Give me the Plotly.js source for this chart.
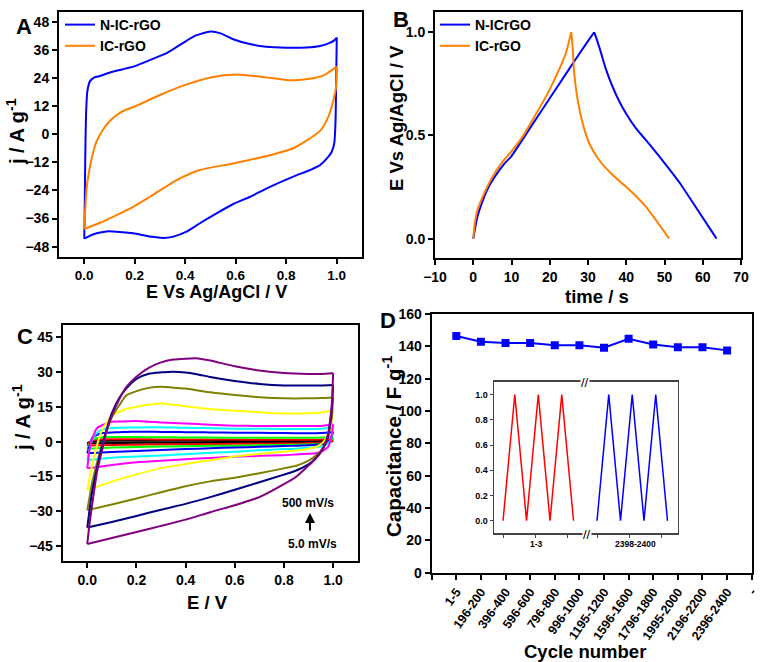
<!DOCTYPE html>
<html>
<head>
<meta charset="utf-8">
<script src="https://cdn.plot.ly/plotly-3.0.1.min.js"></script>
<style>html,body{margin:0;padding:0;background:#fff;}#chart{width:766px;height:662px;}</style>
</head>
<body>
<div id="chart"></div>
<script>
// ---------- Panel A : CV at one scan rate ----------
const aBlueFwdE = [0, 0.002, 0.004, 0.007, 0.012, 0.022, 0.04, 0.062, 0.1, 0.15, 0.2, 0.26, 0.33, 0.39, 0.44, 0.5, 0.54, 0.59, 0.66, 0.72, 0.8, 0.88, 0.93, 0.97, 0.99, 1.0];
const aBlueFwdJ = [-44.6, -30, -10, 8, 18, 22.4, 24.2, 24.8, 26.2, 27.6, 29, 31.6, 34.8, 38.8, 42, 43.8, 43, 40.5, 38.3, 37.3, 36.9, 37, 37.5, 38.8, 40, 41.2];
const aBlueRevE = [1.0, 0.998, 0.995, 0.99, 0.98, 0.967, 0.934, 0.894, 0.828, 0.723, 0.657, 0.59, 0.524, 0.458, 0.405, 0.353, 0.313, 0.26, 0.194, 0.128, 0.089, 0.049, 0.01, 0];
const aBlueRevJ = [41.2, 25, 5, -4, -7.5, -9.6, -13.2, -15.3, -18.1, -23.1, -26.7, -29.8, -33.8, -38, -41.6, -43.7, -44.3, -43.7, -42.3, -41.6, -41.5, -42.3, -44, -44.6];
const aOrgFwdE = [0, 0.004, 0.01, 0.02, 0.03, 0.05, 0.075, 0.1, 0.13, 0.16, 0.2, 0.3, 0.4, 0.5, 0.6, 0.7, 0.8, 0.85, 0.9, 0.95, 1.0];
const aOrgFwdJ = [-40.5, -32, -22.4, -15.5, -10, -2.8, 2, 5.5, 8.3, 10.2, 11.8, 16.7, 21, 24.2, 25.4, 24.5, 23.1, 23.1, 23.7, 25.2, 28.8];
const aOrgRevE = [1.0, 0.997, 0.987, 0.967, 0.934, 0.88, 0.828, 0.723, 0.59, 0.458, 0.366, 0.26, 0.194, 0.128, 0.062, 0];
const aOrgRevJ = [28.8, 20, 14.6, 7.5, 1.4, -2.8, -6, -9.3, -12.5, -15.3, -19.6, -26.7, -31, -34.5, -37.8, -40.5];

// ---------- Panel B : GCD ----------
const bBlueChT = [0, 1, 2, 4, 6, 8, 10, 15, 20, 25, 29, 31.6];
const bBlueChE = [0, 0.1, 0.16, 0.25, 0.31, 0.36, 0.40, 0.54, 0.68, 0.82, 0.93, 1.0];
const bBlueDisT = [31.6, 32.2, 33.4, 34.7, 36.4, 38.2, 39.9, 42.5, 45.1, 49.5, 53.9, 58.2, 63.6];
const bBlueDisE = [1.0, 0.97, 0.9, 0.82, 0.737, 0.664, 0.607, 0.535, 0.478, 0.378, 0.272, 0.152, 0];
const bOrgChT = [0, 0.4, 1.1, 2.4, 5.05, 7.7, 10.3, 12.9, 15.5, 19, 21.6, 24.2, 25.6];
const bOrgChE = [0, 0.074, 0.139, 0.2, 0.3, 0.373, 0.43, 0.494, 0.575, 0.688, 0.785, 0.898, 1.0];
const bOrgDisT = [25.6, 25.9, 26.4, 27.3, 28.6, 30.3, 32.9, 36.4, 39.9, 45.1, 51.2];
const bOrgDisE = [1.0, 0.95, 0.8, 0.672, 0.559, 0.462, 0.381, 0.309, 0.252, 0.155, 0];

// ---------- Panel C : CV at scan rates 5.0 -> 500 mV/s ----------
const cEUp = [0, 0.01, 0.02, 0.04, 0.06, 0.08, 0.1, 0.13, 0.16, 0.2, 0.25, 0.3, 0.35, 0.4, 0.45, 0.5, 0.6, 0.7, 0.8, 0.9, 0.95, 1.0];
const cEDown = [1.0, 0.995, 0.99, 0.98, 0.96, 0.93, 0.9, 0.85, 0.8, 0.7, 0.6, 0.5, 0.4, 0.3, 0.2, 0.1, 0.0];
const cBlackUp = [-0.7, -0.1, 0.2, 0.4, 0.4, 0.4, 0.4, 0.4, 0.4, 0.4, 0.4, 0.4, 0.4, 0.4, 0.4, 0.4, 0.3, 0.3, 0.3, 0.3, 0.4, 0.5];
const cBlackDown = [0.5, 0.2, 0.0, -0.2, -0.3, -0.3, -0.3, -0.3, -0.4, -0.4, -0.4, -0.4, -0.5, -0.5, -0.5, -0.6, -0.7];
const cRedUp = [-1.6, -0.3, 0.5, 0.9, 1.0, 1.0, 1.0, 1.0, 1.0, 1.0, 1.0, 0.9, 0.9, 0.9, 0.9, 0.9, 0.9, 0.8, 0.8, 0.8, 0.9, 1.1];
const cRedDown = [1.1, 0.4, 0.0, -0.4, -0.6, -0.7, -0.7, -0.8, -0.8, -0.9, -0.9, -1.0, -1.1, -1.2, -1.3, -1.4, -1.6];
const cGreenUp = [-3.0, -0.8, 0.8, 1.6, 1.9, 2.0, 2.0, 2.0, 2.0, 2.0, 1.9, 1.9, 1.9, 1.8, 1.8, 1.8, 1.7, 1.7, 1.7, 1.7, 1.8, 2.0];
const cGreenDown = [2.0, 1.0, 0.2, -0.6, -1.0, -1.1, -1.2, -1.3, -1.4, -1.5, -1.7, -1.8, -2.0, -2.1, -2.3, -2.5, -3.0];
const cBlueUp = [-5.0, -1.5, 1.6, 3.0, 3.7, 3.9, 4.0, 4.1, 4.2, 4.3, 4.3, 4.2, 4.2, 4.1, 4.1, 4.0, 3.9, 3.8, 3.7, 3.6, 3.7, 4.2];
const cBlueDown = [4.2, 2.4, 0.7, -0.3, -1.0, -1.3, -1.5, -1.7, -1.9, -2.2, -2.5, -2.8, -3.2, -3.6, -4.0, -4.4, -5.0];
const cCyanUp = [-7.9, -3.1, 1.0, 3.9, 5.2, 5.6, 5.9, 6.0, 6.1, 6.1, 6.2, 6.2, 6.1, 6.0, 5.9, 5.8, 5.6, 5.6, 5.5, 5.5, 5.6, 6.0];
const cCyanDown = [6.0, 3.0, 0.7, -0.6, -2.0, -2.3, -2.6, -3.0, -3.2, -3.7, -4.3, -4.8, -5.4, -5.9, -6.4, -6.9, -7.9];
const cMagentaUp = [-11.5, -3.0, 1.2, 5.9, 7.1, 8.0, 8.6, 8.7, 8.8, 8.9, 8.6, 8.3, 8.1, 7.8, 7.6, 7.3, 6.9, 6.8, 6.8, 6.8, 6.8, 7.5];
const cMagentaDown = [7.5, 3.7, 1.2, -2.2, -3.8, -5.0, -5.2, -5.5, -5.8, -6.1, -6.5, -7.0, -7.6, -8.2, -8.9, -10.0, -11.5];
const cYellowUp = [-20.8, -15.4, -10.0, -1.3, 5.0, 8.5, 11.2, 12.9, 14.2, 15.1, 16.0, 16.5, 15.9, 15.3, 14.6, 14.0, 13.3, 12.7, 12.2, 12.3, 12.6, 13.4];
const cYellowDown = [13.4, 9.9, 6.5, 3.6, -0.2, -2.3, -3.0, -3.8, -4.3, -5.3, -6.4, -8.0, -9.6, -11.4, -14.1, -17.2, -20.8];
const cOliveUp = [-29.5, -23.5, -17.5, -8.9, -1.2, 5.0, 10.5, 15.7, 20.1, 21.8, 23.2, 23.7, 23.3, 22.9, 22.1, 21.3, 20.1, 19.2, 18.7, 18.7, 18.8, 19.1];
const cOliveDown = [19.1, 10.5, 7.8, 2.3, -2.5, -6.0, -8.2, -10.4, -11.5, -13.6, -15.5, -17.1, -19.2, -21.8, -24.5, -27.1, -29.5];
const cNavyUp = [-37, -28.8, -21.3, -11.1, -1.9, 5.8, 12.3, 18.8, 23.1, 27.1, 29.3, 29.9, 30.2, 29.8, 29.0, 27.9, 26.2, 24.9, 24.2, 24.2, 24.2, 24.4];
const cNavyDown = [24.4, 15.1, 9.9, 2.6, -2.8, -7.0, -9.8, -12.4, -14.2, -17.5, -20.7, -23.9, -26.8, -29.3, -32.0, -34.6, -37];
const cPurpleUp = [-44.1, -34.7, -27.1, -12.8, -3.7, 5.3, 11.2, 18.3, 23.7, 28.0, 31.8, 34.2, 35.4, 35.8, 35.9, 35.0, 32.5, 30.7, 29.6, 29.2, 29.2, 29.5];
const cPurpleDown = [29.5, 16.5, 11.3, 3.6, -2.7, -7.3, -10.3, -15.1, -18.3, -23.9, -27.4, -30.4, -33.6, -36.3, -38.9, -41.5, -44.1];

// ---------- Panel D : cycling ----------
const dCycles = ['1-5', '196-200', '396-400', '596-600', '796-800', '996-1000', '1195-1200', '1596-1600', '1796-1800', '1995-2000', '2196-2200', '2396-2400'];
const dCapacitance = [146.4, 142.9, 142.0, 142.0, 140.6, 140.6, 139.1, 144.7, 141.2, 139.5, 139.5, 137.5];
const dTickText = [''].concat(dCycles).concat(['-']);

// inset: first and last three GCD cycles
const insetFirstT = [0, 1, 2, 3, 4, 5, 6];
const insetFirstE = [0, 1, 0, 1, 0, 1, 0];
const insetLastT = [8, 9, 10, 11, 12, 13, 14];
const insetLastE = [0, 1, 0, 1, 0, 1, 0];
const insetGroups = ['1-3', '2398-2400'];

const BLUE = '#0000FF', ORANGE = '#FF8000';
const FONT = 'Liberation Sans, Arial, sans-serif';
const traces = [];
function ln(x, y, color, xa, ya, extra) {
  return Object.assign({x: x, y: y, type: 'scatter', mode: 'lines', xaxis: xa, yaxis: ya,
    line: {color: color, width: 2, shape: 'spline', smoothing: 0.6}, showlegend: false, hoverinfo: 'skip'}, extra || {});
}
// A
traces.push(ln(aBlueFwdE, aBlueFwdJ, BLUE, 'x', 'y', {name: 'N-IC-rGO', showlegend: true, legendgroup: 'a1', legend: 'legend'}));
traces.push(ln(aBlueRevE, aBlueRevJ, BLUE, 'x', 'y', {legendgroup: 'a1'}));
traces.push(ln(aOrgFwdE, aOrgFwdJ, ORANGE, 'x', 'y', {name: 'IC-rGO', showlegend: true, legendgroup: 'a2', legend: 'legend'}));
traces.push(ln(aOrgRevE, aOrgRevJ, ORANGE, 'x', 'y', {legendgroup: 'a2'}));
// B
traces.push(ln(bBlueChT, bBlueChE, BLUE, 'x2', 'y2', {name: 'N-ICrGO', showlegend: true, legendgroup: 'b1', legend: 'legend2'}));
traces.push(ln(bBlueDisT, bBlueDisE, BLUE, 'x2', 'y2', {legendgroup: 'b1'}));
traces.push(ln(bOrgChT, bOrgChE, ORANGE, 'x2', 'y2', {name: 'IC-rGO', showlegend: true, legendgroup: 'b2', legend: 'legend2'}));
traces.push(ln(bOrgDisT, bOrgDisE, ORANGE, 'x2', 'y2', {legendgroup: 'b2'}));
// C : 5.0 mV/s (black) ... 500 mV/s (purple)
const cSets = [
  [cBlackUp, cBlackDown, '#000000'], [cRedUp, cRedDown, '#FF0000'], [cGreenUp, cGreenDown, '#00FF00'],
  [cBlueUp, cBlueDown, '#0000FF'], [cCyanUp, cCyanDown, '#00FFFF'], [cMagentaUp, cMagentaDown, '#FF00FF'],
  [cYellowUp, cYellowDown, '#FFFF00'], [cOliveUp, cOliveDown, '#808000'], [cNavyUp, cNavyDown, '#000080'],
  [cPurpleUp, cPurpleDown, '#800080']
];
cSets.forEach(function (s) {
  traces.push(ln(cEUp, s[0], s[2], 'x3', 'y3'));
  traces.push(ln(cEDown, s[1], s[2], 'x3', 'y3'));
});
// D
traces.push({x: dCycles.map(function (c, i) { return i + 1; }), y: dCapacitance, type: 'scatter', mode: 'lines+markers',
  xaxis: 'x4', yaxis: 'y4', line: {color: BLUE, width: 2}, marker: {symbol: 'square', size: 8, color: BLUE},
  showlegend: false, text: dCycles, hoverinfo: 'text+y'});
// inset
traces.push({x: insetFirstT, y: insetFirstE, type: 'scatter', mode: 'lines', xaxis: 'x5', yaxis: 'y5',
  line: {color: '#FF0000', width: 1.5}, showlegend: false, hoverinfo: 'skip'});
traces.push({x: insetLastT, y: insetLastE, type: 'scatter', mode: 'lines', xaxis: 'x5', yaxis: 'y5',
  line: {color: '#0000FF', width: 1.5}, showlegend: false, hoverinfo: 'skip'});

const W = 766, H = 662;
function px(v) { return v / W; }
function py(v) { return 1 - v / H; }
function ax(extra) {
  return Object.assign({showline: true, mirror: true, linewidth: 2, linecolor: '#000', ticks: 'outside',
    ticklen: 5, tickwidth: 2, tickcolor: '#000', showgrid: false, zeroline: false, automargin: false,
    tickfont: {family: FONT, size: 14, color: '#000', weight: 'bold'}}, extra);
}
function note(text, x, y, size, extra) {
  return Object.assign({text: text, x: px(x), y: py(y), xref: 'paper', yref: 'paper', showarrow: false,
    xanchor: 'center', yanchor: 'middle', font: {family: FONT, size: size, color: '#000', weight: 'bold'}}, extra || {});
}

const layout = {
  width: W, height: H, margin: {l: 0, r: 0, t: 0, b: 0}, paper_bgcolor: '#fff', plot_bgcolor: 'rgba(0,0,0,0)',
  font: {family: FONT, size: 13, color: '#000', weight: 'bold'},
  xaxis: ax({domain: [px(59), px(362)], range: [-0.1, 1.1], tick0: 0, dtick: 0.2, tickformat: '.1f', anchor: 'y',
    tickfont: {family: FONT, size: 13.5, color: '#000', weight: 'bold'}}),
  yaxis: ax({domain: [py(257), py(12)], range: [-52.4, 52.1], tick0: 0, dtick: 12, anchor: 'x'}),
  xaxis2: ax({domain: [px(435), px(741)], range: [-10, 70], tick0: 0, dtick: 10, anchor: 'y2'}),
  yaxis2: ax({domain: [py(258), py(12)], range: [-0.094, 1.098], tick0: 0, dtick: 0.5, tickformat: '.1f', anchor: 'x2'}),
  xaxis3: ax({domain: [px(62.7), px(357.7)], range: [-0.1, 1.1], tick0: 0, dtick: 0.2, tickformat: '.1f', anchor: 'y3'}),
  yaxis3: ax({domain: [py(560.7), py(325)], range: [-51.3, 50.3], tick0: 0, dtick: 15, anchor: 'x3'}),
  xaxis4: ax({domain: [px(431.7), px(751.7)], range: [0, 13], tickmode: 'array', tickvals: dTickText.map(function (t, i) { return i; }),
    ticktext: dTickText, tickangle: -55, anchor: 'y4', tickfont: {family: FONT, size: 12.5, color: '#000', weight: 'bold'}}),
  yaxis4: ax({domain: [py(572.7), py(314)], range: [0, 160], tick0: 0, dtick: 20, anchor: 'x4'}),
  xaxis5: {domain: [px(494), px(677.7)], range: [-0.77, 14.87], anchor: 'y5', showline: true, mirror: true,
    linewidth: 1.5, linecolor: '#444', ticks: 'outside', ticklen: 3, tickwidth: 1, tickcolor: '#444',
    tickmode: 'array', tickvals: [0, 2.75, 5.5, 8, 10.75, 13.5], showticklabels: false, showgrid: false, zeroline: false},
  yaxis5: {domain: [py(533.3), py(381.7)], range: [-0.1, 1.103], anchor: 'x5', showline: true, mirror: true,
    linewidth: 1.5, linecolor: '#444', ticks: 'outside', ticklen: 3, tickwidth: 1, tickcolor: '#444',
    tick0: 0, dtick: 0.2, tickformat: '.1f', showgrid: false, zeroline: false,
    tickfont: {family: FONT, size: 9, color: '#000', weight: 'bold'}},
  legend: {x: px(60), y: py(9), xanchor: 'left', yanchor: 'top', bgcolor: 'rgba(0,0,0,0)',
    font: {family: FONT, size: 14, color: '#000', weight: 'bold'}, tracegroupgap: 0},
  legend2: {x: px(435), y: py(9), xanchor: 'left', yanchor: 'top', bgcolor: 'rgba(0,0,0,0)',
    font: {family: FONT, size: 14, color: '#000', weight: 'bold'}, tracegroupgap: 0},
  annotations: [
    note('A', 24, 26, 22), note('B', 401, 20, 22), note('C', 24.5, 336, 22), note('D', 388, 320, 22),
    note('E Vs Ag/AgCl / V', 216, 292, 18),
    note('j / A g<sup>-1</sup>', 15, 132, 20, {textangle: -90}),
    note('time / s', 597, 296, 18.5),
    note('E Vs Ag/AgCl / V', 397, 118, 18.5, {textangle: -90}),
    note('E / V', 207, 602, 18.5),
    note('j / A g<sup>-1</sup>', 21, 418, 20, {textangle: -90}),
    note('Cycle number', 585, 651, 18.5),
    note('Capacitance / F g<sup>-1</sup>', 392, 447, 20.5, {textangle: -90}),
    note('500 mV/s', 308, 503, 12), note('5.0 mV/s', 312, 543.5, 12),
    {text: '', x: px(310), y: py(513), xref: 'paper', yref: 'paper', showarrow: true, ax: 0, ay: 19,
      arrowhead: 2, arrowsize: 1, arrowwidth: 2, arrowcolor: '#000'},
    note(insetGroups[0], 536, 544, 8.5), note(insetGroups[1], 635, 544, 8.5),
    note('//', 587, 534, 13, {bgcolor: '#fff', borderpad: 0, font: {family: FONT, size: 13, color: '#000', weight: 'normal'}}),
    note('//', 585, 382, 13, {bgcolor: '#fff', borderpad: 0, font: {family: FONT, size: 13, color: '#000', weight: 'normal'}})
  ]
};

Plotly.newPlot('chart', traces, layout, {staticPlot: true, displayModeBar: false});
</script>
</body>
</html>
